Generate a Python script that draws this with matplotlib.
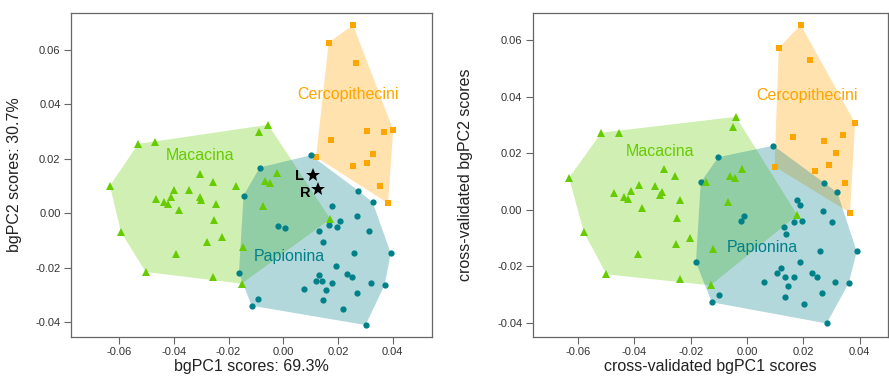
import numpy as np
import matplotlib
matplotlib.use('Agg')
import matplotlib.pyplot as plt

plt.rcParams['font.family'] = ['Liberation Sans', 'DejaVu Sans']

# ---- data: left panel (bgPCA) ----
mac_x1 = [-0.0055, -0.0089, -0.0530, -0.0469, -0.0634, -0.0305, -0.0256, -0.0174, -0.0399, -0.0344,
          -0.0411, -0.0465, -0.0436, -0.0420, -0.0305, -0.0302, -0.0246, -0.0381, -0.0252, -0.0225,
          -0.0280, -0.0392, -0.0593, -0.0503, -0.0256, -0.0152, -0.0146, -0.0024, -0.0067, -0.0049,
          -0.0075, 0.0172]
mac_y1 = [0.0325, 0.0298, 0.0255, 0.0260, 0.0101, 0.0143, 0.0116, 0.0100, 0.0086, 0.0086,
          0.0059, 0.0054, 0.0042, 0.0034, 0.0059, 0.0049, 0.0035, 0.0010, -0.0026, -0.0087,
          -0.0107, -0.0149, -0.0070, -0.0216, -0.0233, -0.0259, -0.0125, 0.0147, 0.0119, 0.0110,
          0.0027, -0.0021]
pap_x1 = [0.0101, -0.0086, -0.0145, -0.0018, 0.0006, -0.0162, 0.0274, 0.0327, 0.0178, 0.0271,
          0.0207, 0.0168, 0.0195, 0.0132, 0.0312, 0.0145, 0.0259, 0.0393, 0.0193, 0.0232,
          0.0250, 0.0132, 0.0120, 0.0140, 0.0178, 0.0076, 0.0155, 0.0320, 0.0371, 0.0271,
          0.0146, -0.0091, -0.0116, 0.0218, 0.0301]
pap_y1 = [0.0213, 0.0168, 0.0065, -0.0046, -0.0054, -0.0219, 0.0083, 0.0040, 0.0026, -0.0009,
          -0.0027, -0.0044, -0.0049, -0.0065, -0.0065, -0.0107, -0.0145, -0.0147, -0.0193, -0.0223,
          -0.0235, -0.0227, -0.0248, -0.0248, -0.0255, -0.0279, -0.0282, -0.0257, -0.0263, -0.0292,
          -0.0320, -0.0314, -0.0340, -0.0351, -0.0411]
cer_x1 = [0.0255, 0.0166, 0.0265, 0.0402, 0.0305, 0.0367, 0.0173, 0.0329, 0.0305, 0.0255,
          0.0120, 0.0354, 0.0383]
cer_y1 = [0.0692, 0.0627, 0.0553, 0.0306, 0.0301, 0.0298, 0.0269, 0.0217, 0.0186, 0.0174,
          0.0206, 0.0100, 0.0037]
star_labels = ['L', 'R']
star_x = [0.0110, 0.0128]
star_y = [0.0141, 0.0088]

# ---- data: right panel (cross-validated) ----
mac_x2 = [-0.0039, -0.0051, -0.0517, -0.0456, -0.0632, -0.0296, -0.0255, -0.0385, -0.0326, -0.0413,
          -0.0472, -0.0435, -0.0421, -0.0302, -0.0308, -0.0239, -0.0373, -0.0250, -0.0202, -0.0253,
          -0.0386, -0.0579, -0.0499, -0.0239, -0.0129, -0.0120, -0.0145, -0.0018, -0.0059, -0.0043,
          -0.0069, 0.0179]
mac_y2 = [0.0329, 0.0294, 0.0273, 0.0273, 0.0113, 0.0145, 0.0120, 0.0086, 0.0083, 0.0067,
          0.0059, 0.0044, 0.0038, 0.0061, 0.0052, 0.0034, 0.0007, -0.0029, -0.0099, -0.0120,
          -0.0157, -0.0080, -0.0229, -0.0247, -0.0268, -0.0139, 0.0097, 0.0146, 0.0118, 0.0112,
          0.0027, -0.0019]
pap_x2 = [0.0094, -0.0102, -0.0164, 0.0275, 0.0321, 0.0176, 0.0189, 0.0271, -0.0010, -0.0020,
          0.0168, 0.0195, 0.0302, 0.0132, 0.0137, 0.0390, 0.0258, 0.0189, -0.0181, 0.0122,
          0.0106, 0.0135, 0.0168, 0.0232, 0.0248, 0.0062, 0.0145, 0.0314, 0.0362, 0.0265,
          -0.0099, -0.0125, 0.0136, 0.0203, 0.0283]
pap_y2 = [0.0227, 0.0186, 0.0097, 0.0093, 0.0061, 0.0034, 0.0017, -0.0004, -0.0021, -0.0040,
          -0.0042, -0.0040, -0.0042, -0.0061, -0.0087, -0.0148, -0.0146, -0.0186, -0.0186, -0.0208,
          -0.0224, -0.0240, -0.0240, -0.0226, -0.0237, -0.0256, -0.0272, -0.0256, -0.0259, -0.0294,
          -0.0302, -0.0328, -0.0311, -0.0334, -0.0403]
cer_x2 = [0.0191, 0.0113, 0.0223, 0.0384, 0.0342, 0.0164, 0.0273, 0.0315, 0.0290, 0.0240,
          0.0098, 0.0349, 0.0366]
cer_y2 = [0.0655, 0.0573, 0.0529, 0.0307, 0.0266, 0.0258, 0.0242, 0.0201, 0.0158, 0.0136,
          0.0153, 0.0093, -0.0011]

ticks = [-0.06, -0.04, -0.02, 0.00, 0.02, 0.04]
yticks = [-0.04, -0.02, 0.00, 0.02, 0.04, 0.06]

green = '#66CC00'
teal = '#008088'
orange = '#FFA500'


def hull(x, y):
    pts = sorted(set(zip(x, y)))

    def cross(o, a, b):
        return (a[0] - o[0]) * (b[1] - o[1]) - (a[1] - o[1]) * (b[0] - o[0])

    lower, upper = [], []
    for p in pts:
        while len(lower) >= 2 and cross(lower[-2], lower[-1], p) <= 0:
            lower.pop()
        lower.append(p)
    for p in reversed(pts):
        while len(upper) >= 2 and cross(upper[-2], upper[-1], p) <= 0:
            upper.pop()
        upper.append(p)
    h = np.array(lower[:-1] + upper[:-1])
    return h[:, 0], h[:, 1]


def panel(ax, mac, pap, cer, labels_pos):
    # hulls first, markers on top
    hx, hy = hull(*cer)
    ax.fill(hx, hy, color=orange, alpha=0.32, lw=0, zorder=1)
    hx, hy = hull(*mac)
    ax.fill(hx, hy, color=green, alpha=0.3, lw=0, zorder=1)
    hx, hy = hull(*pap)
    ax.fill(hx, hy, color=teal, alpha=0.3, lw=0, zorder=1)
    ax.plot(*cer, 's', color=orange, ms=4.3, mew=0, zorder=3)
    ax.plot(*pap, 'o', color=teal, ms=4.5, mew=0, zorder=3)
    ax.plot(*mac, '^', color=green, ms=6.3, mew=0, zorder=3)
    for name, col, (tx, ty) in zip(['Macacina', 'Papionina', 'Cercopithecini'],
                                   [green, teal, orange], labels_pos):
        ax.text(tx, ty, name, color=col, fontsize=11.5, ha='center', va='center', zorder=4)
    ax.set_xticks(ticks)
    ax.set_yticks(yticks)
    ax.set_xticklabels(['%.2f' % t for t in ticks])
    ax.set_yticklabels(['%.2f' % t for t in yticks])
    ax.tick_params(direction='out', length=5, width=0.8, color='#666666',
                   labelsize=8, labelcolor='#333333', pad=2.5)
    for s in ax.spines.values():
        s.set_color('#666666')
        s.set_linewidth(0.9)


fig = plt.figure(figsize=(8.89, 3.84), dpi=100)
ax1 = fig.add_axes([0.0799, 0.1224, 0.4064, 0.8438])
ax2 = fig.add_axes([0.5992, 0.1224, 0.4000, 0.8430])

panel(ax1, (mac_x1, mac_y1), (pap_x1, pap_y1), (cer_x1, cer_y1),
      [(-0.0304, 0.0212), (0.0022, -0.0160), (0.0238, 0.0435)])
ax1.plot(star_x, star_y, '*', color='black', ms=10, mew=0, zorder=5)
for lab, sx, sy, dy in zip(star_labels, star_x, star_y, [-0.0006, -0.0015]):
    ax1.text(sx - 0.0049, sy + dy, lab, fontsize=10.5, fontweight='bold',
             ha='center', va='center', zorder=5)
ax1.set_xlim(-0.0776, 0.0545)
ax1.set_ylim(-0.0455, 0.0736)
ax1.set_xlabel('bgPC1 scores: 69.3%', fontsize=11.5, color='#222222', labelpad=1)
ax1.set_ylabel('bgPC2 scores: 30.7%', fontsize=11.5, color='#222222')
ax1.yaxis.set_label_coords(-0.136, 0.5)

panel(ax2, (mac_x2, mac_y2), (pap_x2, pap_y2), (cer_x2, cer_y2),
      [(-0.0310, 0.0206), (0.0055, -0.0135), (0.0215, 0.0406)])
ax2.set_xlim(-0.0761, 0.0502)
ax2.set_ylim(-0.0451, 0.0696)
ax2.set_xlabel('cross-validated bgPC1 scores', fontsize=11.5, color='#222222', labelpad=1)
ax2.set_ylabel('cross-validated bgPC2 scores', fontsize=11.5, color='#222222')
ax2.yaxis.set_label_coords(-0.167, 0.5)

fig.savefig('out.png', dpi=100)
